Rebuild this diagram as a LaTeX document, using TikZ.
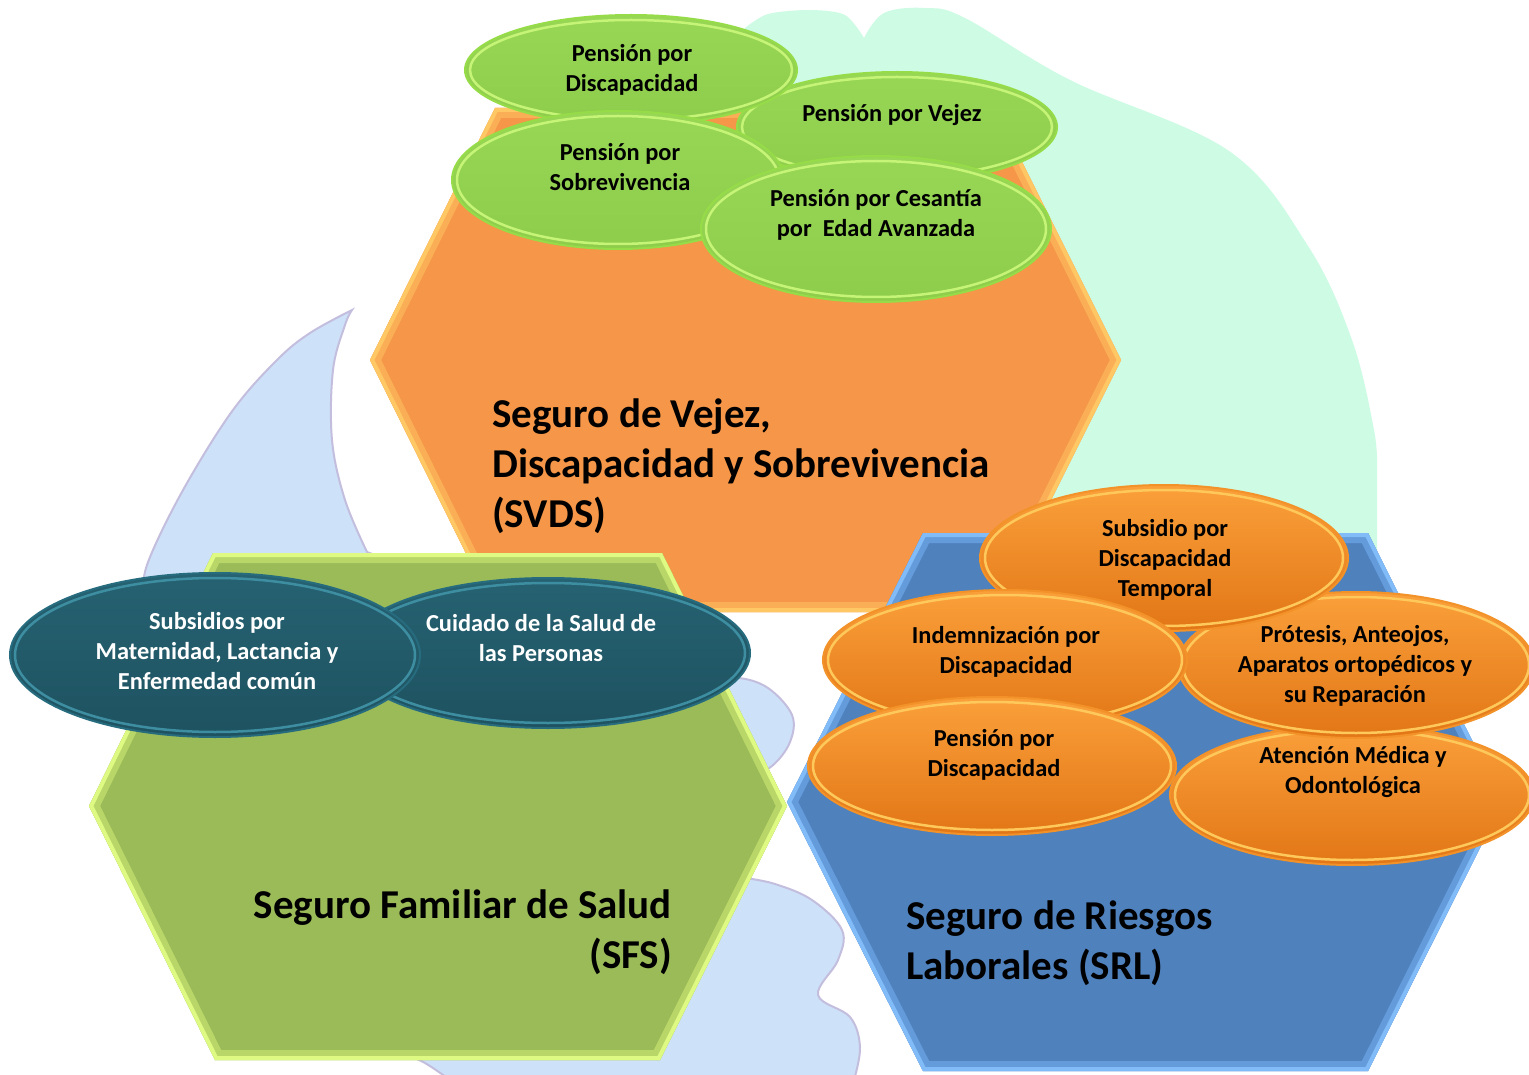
\documentclass[tikz,border=0pt]{standalone}
\usepackage{fontspec}
\setmainfont{Carlito}
\usetikzlibrary{shapes.geometric,calc}

\definecolor{mint}{RGB}{205,251,228}
\definecolor{skyblob}{RGB}{205,226,248}
\definecolor{skyline}{RGB}{196,190,222}
\definecolor{hexor}{RGB}{245,150,72}
\definecolor{hexorB}{RGB}{255,200,100}
\definecolor{hexorM}{RGB}{250,174,86}
\definecolor{hexgr}{RGB}{155,187,89}
\definecolor{hexgrB}{RGB}{222,250,130}
\definecolor{hexgrM}{RGB}{185,215,105}
\definecolor{hexbl}{RGB}{79,129,189}
\definecolor{hexblB}{RGB}{130,188,248}
\definecolor{hexblM}{RGB}{100,155,218}
\definecolor{elgrT}{RGB}{152,214,86}
\definecolor{elgrB}{RGB}{142,204,76}
\definecolor{elgrRim}{RGB}{198,244,118}
\definecolor{elgrOut}{RGB}{150,220,72}
\definecolor{elteT}{RGB}{38,98,114}
\definecolor{elteB}{RGB}{30,82,96}
\definecolor{elteRim}{RGB}{62,142,162}
\definecolor{elteOut}{RGB}{38,108,126}
\definecolor{elorT}{RGB}{250,160,58}
\definecolor{elorB}{RGB}{226,118,22}
\definecolor{elorRim}{RGB}{255,200,90}
\definecolor{elorOut}{RGB}{242,146,40}

\newcommand\hexbevel[9]{%
  \fill[#1] (#4)--(#5)--(#6)--(#7)--(#8)--(#9)--cycle;
  \begin{scope}
    \clip (#4)--(#5)--(#6)--(#7)--(#8)--(#9)--cycle;
    \draw[#2, line width=20pt, line join=miter] (#4)--(#5)--(#6)--(#7)--(#8)--(#9)--cycle;
    \draw[#3, line width=8pt, line join=miter] (#4)--(#5)--(#6)--(#7)--(#8)--(#9)--cycle;
  \end{scope}}

\tikzset{
  rim/.style={path picture={
     \draw[#1, line width=2.5pt] let \p1=($(path picture bounding box.north east)-(path picture bounding box.center)$) in
       (path picture bounding box.center) ellipse [x radius=\x1-5pt, y radius=\y1-5pt];}},
  oval/.style 2 args={ellipse, inner sep=0pt, minimum width=#1, minimum height=#2},
  gell/.style 2 args={oval={#1}{#2}, top color=elgrT, bottom color=elgrB, draw=elgrOut, line width=2pt, rim=elgrRim},
  tell/.style 2 args={oval={#1}{#2}, top color=elteT, bottom color=elteB, draw=elteOut, line width=2pt, rim=elteRim},
  oell/.style 2 args={oval={#1}{#2}, top color=elorT, bottom color=elorB, draw=elorOut, line width=2pt, rim=elorRim},
  lbl/.style={font=\fontsize{24.4}{30}\selectfont\bfseries, align=center, inner sep=0pt},
  big/.style={font=\fontsize{41}{50}\selectfont\bfseries, inner sep=0pt},
}

\begin{document}
\begin{tikzpicture}[x=1pt, y=-1pt]
\useasboundingbox (0,0) rectangle (1529,1075);
\clip (0,0) rectangle (1529,1075);
\fill[white] (0,0) rectangle (1529,1075);

% mint background blob
\fill[mint] (745,300) -- plot[smooth, tension=0.5] coordinates {(745,28) (768,14) (810,10) (845,15) (864,38)}
  -- plot[smooth, tension=0.6] coordinates {(864,38) (884,13) (925,8) (965,18) (1070,80) (1229,151) (1308,246) (1352,340) (1374,430) (1377,470)}
  -- (1377,600) -- (1000,600) -- cycle;

% light blue background blob
\filldraw[fill=skyblob, draw=skyline, line width=2pt]
  plot[smooth, tension=0.6] coordinates {(352,310) (310,333) (277,360) (233,410) (187,483) (153,550) (143,585) (145,630)}
  -- (300,1000)
  -- plot[smooth, tension=0.6] coordinates {(400,1052) (425,1063) (450,1080)}
  -- (854,1080)
  -- plot[smooth, tension=0.6] coordinates {(854,1080) (860,1047) (850,1017) (818,995) (838,960) (842,930) (812,900) (775,884) (745,878)}
  -- (700,860) -- (700,790)
  -- plot[smooth, tension=0.6] coordinates {(745,780) (772,766) (790,742) (792,715) (768,688) (738,678) (712,684)}
  -- plot[smooth, tension=0.6] coordinates {(367,552) (345,500) (332,440) (333,370) (345,325) (352,310)}
  -- cycle;

% orange hexagon (SVDS)
\coordinate (o1) at (495,108); \coordinate (o2) at (995,108); \coordinate (o3) at (1121,360);
\coordinate (o4) at (995,612); \coordinate (o5) at (495,612); \coordinate (o6) at (370,360);
\hexbevel{hexor}{hexorM}{hexorB}{o1}{o2}{o3}{o4}{o5}{o6}

% green pension ellipses
\node[gell={320}{110}] (eVejez) at (897,127) {};
\node[lbl] (tVejez) at (892,115) {Pensión por Vejez};
\node[gell={332}{110}] (eDisc) at (631,70) {};
\node[lbl] (tDisc) at (632,70) {Pensión por\\Discapacidad};
\node[gell={332}{138}] (eSobre) at (618,180) {};
\node[lbl] (tSobre) at (620,167) {Pensión por\\Sobrevivencia};
\node[gell={350}{146}] (eCes) at (876,229) {};
\node[lbl] (tCes) at (876,215) {Pensión por Cesantía\\por~ Edad Avanzada};

\node[big, anchor=west, align=left] (tSVDS) at (492,466) {Seguro de Vejez,\\Discapacidad y Sobrevivencia\\(SVDS)};

% green hexagon (SFS)
\coordinate (g1) at (213,553); \coordinate (g2) at (662,553); \coordinate (g3) at (787,806);
\coordinate (g4) at (660,1060); \coordinate (g5) at (215,1060); \coordinate (g6) at (89,806);
\hexbevel{hexgr}{hexgrM}{hexgrB}{g1}{g2}{g3}{g4}{g5}{g6}

% blue hexagon (SRL)
\coordinate (b1) at (923,533); \coordinate (b2) at (1368,533); \coordinate (b3) at (1503,802);
\coordinate (b4) at (1368,1071); \coordinate (b5) at (923,1071); \coordinate (b6) at (787,802);
\hexbevel{hexbl}{hexblM}{hexblB}{b1}{b2}{b3}{b4}{b5}{b6}

% teal ellipses
\node[tell={404}{150}] (eCuid) at (548,653) {};
\node[lbl, text=white] (tCuid) at (541,638) {Cuidado de la Salud de\\las Personas};
\node[tell={410}{164}] (eSubs) at (215,655) {};
\node[lbl, text=white] (tSubs) at (217,651) {Subsidios por\\Maternidad, Lactancia y\\Enfermedad común};

\node[big, anchor=east, align=right] (tSFS) at (672,932) {Seguro Familiar de Salud\\(SFS)};

% orange ellipses
\node[oell={364}{140}] (eAten) at (1352,795) {};
\node[lbl] (tAten) at (1353,772) {Atención Médica y\\Odontológica};
\node[oell={356}{146}] (eProt) at (1356,665) {};
\node[lbl] (tProt) at (1355,666) {Prótesis, Anteojos,\\Aparatos ortopédicos y\\su Reparación};
\node[oell={368}{146}] (eSubD) at (1164,558) {};
\node[lbl] (tSubD) at (1165,560) {Subsidio por\\Discapacidad\\Temporal};
\node[oell={364}{140}] (eIndem) at (1005,660) {};
\node[lbl] (tIndem) at (1006,652) {Indemnización por\\Discapacidad};
\node[oell={368}{138}] (ePens) at (992,766) {};
\node[lbl] (tPens) at (994,755) {Pensión por\\Discapacidad};

\node[big, anchor=west, align=left] (tSRL) at (906,943) {Seguro de Riesgos\\Laborales (SRL)};
\end{tikzpicture}
\end{document}
